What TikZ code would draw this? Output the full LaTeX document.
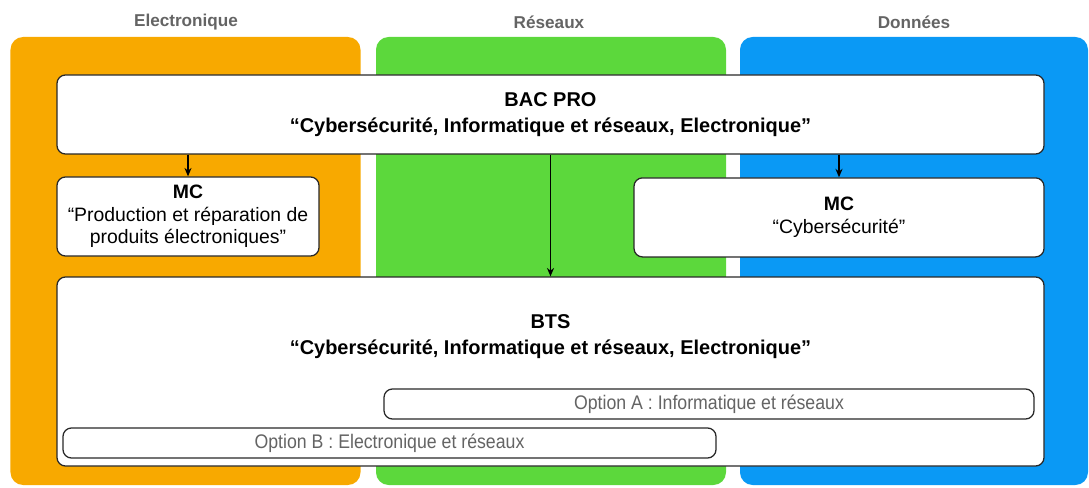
\documentclass[tikz,border=0pt]{standalone}
\usepackage{fontspec}
\setmainfont{Liberation Sans}
\newfontfamily\narrowfont[FakeStretch=0.9]{Liberation Sans}
\usetikzlibrary{arrows.meta}
\definecolor{elecorange}{RGB}{248,169,0}
\definecolor{resgreen}{RGB}{92,216,60}
\definecolor{datblue}{RGB}{10,153,245}
\definecolor{headgray}{RGB}{100,100,100}
\definecolor{boxline}{RGB}{40,40,40}
\begin{document}
\begin{tikzpicture}[
    column/.style={fill=#1, rounded corners=9pt, minimum width=8.75cm, minimum height=11.2cm, inner sep=0pt},
    header/.style={font=\bfseries\fontsize{12.2}{14}\selectfont, text=headgray},
    diploma/.style={draw=boxline, line width=0.9pt, fill=white, rounded corners=6pt, minimum height=1.975cm, inner sep=0pt},
    option/.style={draw=boxline, line width=0.9pt, fill=white, rounded corners=6pt, minimum height=0.75cm, inner sep=0pt, font=\narrowfont\fontsize{14}{16}\selectfont, text=headgray},
    arrow/.style={-{Stealth[length=6pt,width=5pt]}, line width=1.4pt}
]
    \useasboundingbox (0,0) rectangle (27.225,12.175);

    % Columns
    \node[column=elecorange] (elec) at (4.6375,5.65) {};
    \node[column=resgreen] (res) at (13.775,5.65) {};
    \node[column=datblue, minimum width=8.7cm] (dat) at (22.85,5.65) {};
    \node[header] (elechead) at (4.65,11.625) {Electronique};
    \node[header] (reshead) at (13.725,11.625) {Réseaux};
    \node[header] (dathead) at (22.85,11.625) {Données};

    % BAC PRO
    \node[diploma, minimum width=24.675cm, align=center, font=\bfseries\fontsize{14.2}{18.5}\selectfont] (bacpro) at (13.7625,9.3125)
        {BAC PRO\\“Cybersécurité, Informatique et réseaux, Electronique”};

    % MC
    \node[diploma, minimum width=6.55cm, align=center, font=\fontsize{13.8}{16}\selectfont] (mcelec) at (4.7,6.7625)
        {\textbf{MC}\\“Production et réparation de\\produits électroniques”};
    \node[diploma, minimum width=10.25cm, align=center, font=\fontsize{13.8}{16}\selectfont] (mccyber) at (20.975,6.74)
        {\textbf{MC}\\“Cybersécurité”};

    % BTS
    \node[diploma, minimum width=24.675cm, minimum height=4.725cm] (bts) at (13.7625,2.8875) {};
    \node[align=center, font=\bfseries\fontsize{14.2}{17.8}\selectfont] (btstitle) at (13.7625,3.76)
        {BTS\\“Cybersécurité, Informatique et réseaux, Electronique”};
    \node[option, minimum width=16.25cm] (optA) at (17.725,2.075) {Option A : Informatique et réseaux};
    \node[option, minimum width=16.325cm] (optB) at (9.7375,1.1) {Option B : Electronique et réseaux};

    % Arrows
    \draw[arrow] (bacpro.south -| mcelec.north) -- (mcelec.north);
    \draw[arrow] (bacpro.south) -- (bts.north);
    \draw[arrow] (bacpro.south -| mccyber.north) -- (mccyber.north);
\end{tikzpicture}
\end{document}
